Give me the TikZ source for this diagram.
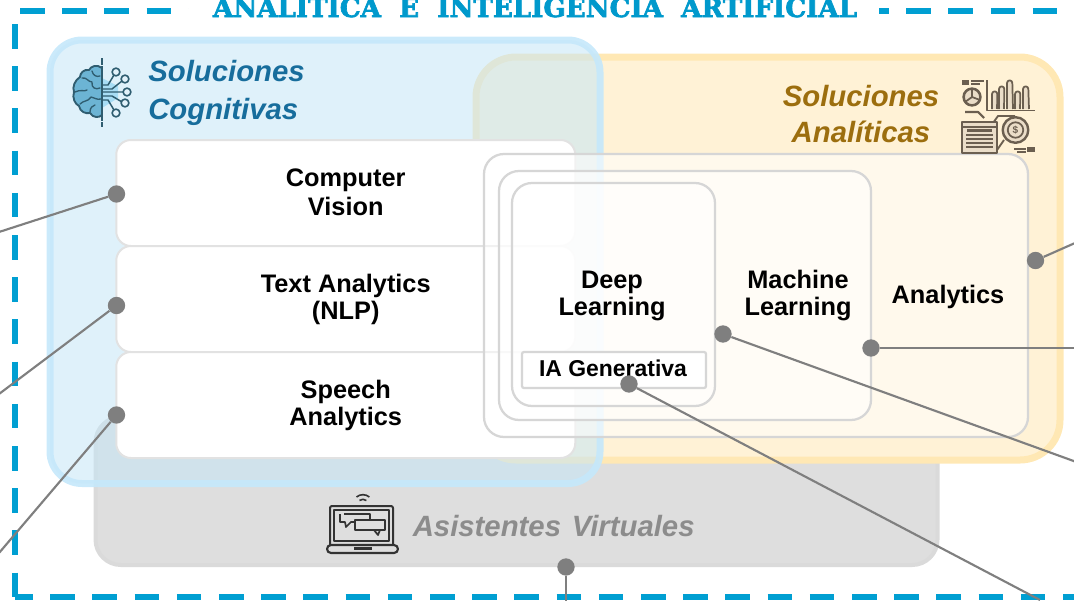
\documentclass[tikz,border=0pt]{standalone}
\usepackage{fontspec}
\setmainfont{Liberation Sans}
\newfontfamily\titlefont[BoldFeatures={FakeBold=2.5}]{DejaVu Serif}
\definecolor{framecol}{HTML}{009FD2}
\definecolor{titlecol}{HTML}{0099CC}
\definecolor{blueedge}{HTML}{C5E8FB}
\definecolor{bluefill}{HTML}{C5E6F6}
\definecolor{yellowedge}{HTML}{FFE8B4}
\definecolor{yellowfill}{HTML}{FFF2D6}
\definecolor{grayedge}{HTML}{DADADA}
\definecolor{grayfill}{HTML}{DEDEDE}
\definecolor{whiteedge}{HTML}{E2E2E2}
\definecolor{nestedge}{HTML}{D6D6D6}
\definecolor{linkcol}{HTML}{7F7F7F}
\definecolor{cogtext}{HTML}{176D9C}
\definecolor{anatext}{HTML}{9C6E0E}
\definecolor{asistext}{HTML}{8C8C8C}
\definecolor{braindark}{HTML}{2F5D70}
\definecolor{brainfill}{HTML}{6CB4D4}
\definecolor{brainglow}{HTML}{A8DDF5}
\definecolor{iconbrown}{HTML}{6B5F50}
\definecolor{iconfill}{HTML}{EADDC8}
\definecolor{laptopcol}{HTML}{333333}
\tikzset{
  boxsize/.style 2 args={minimum width=#1*0.75pt, minimum height=#2*0.75pt},
  plainbox/.style={rectangle, inner sep=0pt, outer sep=0pt, text opacity=1},
  graybox/.style={plainbox, draw=grayedge, fill=grayfill, line width=3pt, rounded corners=19pt},
  yellowbox/.style={plainbox, draw=yellowedge, fill=yellowfill, line width=5.25pt, rounded corners=30pt},
  bluebox/.style={plainbox, draw=blueedge, draw opacity=.9, fill=bluefill, fill opacity=.55, line width=5.25pt, rounded corners=24pt},
  whitebox/.style={plainbox, draw=whiteedge, fill=white, line width=1.5pt, rounded corners=11pt, align=center, font=\labelfont},
  nestbox/.style={plainbox, draw=nestedge, fill=white, fill opacity=.55, line width=1.7pt, rounded corners=15pt},
  genbox/.style={plainbox, draw=nestedge, fill=white, line width=1.7pt, rounded corners=1.5pt},
  label/.style={align=center, inner sep=0pt, font=\labelfont},
  dot/.style={circle, fill=linkcol, minimum size=13pt, inner sep=0pt},
  link/.style={draw=linkcol, line width=1.6pt},
  framedash/.style={draw=framecol, line width=4.2pt, dash pattern=on 18.45pt off 13.2pt},
}
\newcommand\labelfont{\fontsize{19}{20.3}\selectfont\bfseries}
\newcommand\genfont{\fontsize{17.2}{20}\selectfont\bfseries}
\newcommand\headfont{\fontsize{22}{28}\selectfont\bfseries\itshape}
\begin{document}
\begin{tikzpicture}[x=0.75pt,y=-0.75pt]
\useasboundingbox (0,0) rectangle (1074,600);
\clip (0,0) rectangle (1074,600);
% frame
\coordinate (topA) at (20,11); \coordinate (topB) at (1060,11);
\coordinate (leftA) at (15,24); \coordinate (corner) at (15,597); \coordinate (botB) at (1074,597);
\draw[framedash] (topA) -- (topB);
\draw[framedash] (leftA) -- (corner);
\draw[framedash, dash phase=5.25pt] (corner) -- (botB);
\node[fill=white, inner sep=0pt, minimum width=517.5pt, minimum height=24pt] (titleback) at (534,14) {};
\node[anchor=base, inner sep=0pt, text=titlecol] (title) at (535,17)
  {\resizebox{483pt}{!}{\titlefont\bfseries\fontsize{25}{25}\selectfont ANALITICA\ \ E\ \ INTELIGENCIA\ \ ARTIFICIAL}};
% containers
\node[graybox, boxsize={842}{148}] (gray) at (516.5,491) {};
\node[yellowbox, boxsize={584}{403}] (yellow) at (768,258.5) {};
\node[bluebox, boxsize={550}{443.5}] (blue) at (325,261.75) {};
% white boxes
\node[whitebox, boxsize={459}{106}] (cv) at (345.75,193) {\raisebox{1.2pt}{\shortstack{Computer\\[0.6pt]Vision}}};
\node[whitebox, boxsize={459}{106}] (nlp) at (345.75,299) {Text Analytics\\(NLP)};
\node[whitebox, boxsize={459}{106}] (speech) at (345.75,405) {Speech\\Analytics};
% nested boxes
\node[nestbox, boxsize={544}{283}] (analytics) at (756,295.5) {};
\node[nestbox, boxsize={372}{249}] (ml) at (685,295.5) {};
\node[nestbox, boxsize={203}{223}] (dl) at (613.5,294.5) {};
\node[genbox, boxsize={184}{36}] (gen) at (614,370) {};
\node[inner sep=0pt, font=\genfont] (gentext) at (613,368) {IA Generativa};
\node[label] (dltext) at (612,295.5) {Deep\\Learning};
\node[label] (mltext) at (798,295.5) {Machine\\Learning};
\node[label] (antext) at (948,297) {Analytics};
% headings
\node[anchor=west, inner sep=0pt, align=left, font=\headfont, text=cogtext] (cogtitle) at (148,93)
  {Soluciones\\[0.6pt]Cognitivas};
\node[inner sep=0pt, align=center, font=\headfont, text=anatext] (anatitle) at (861,114)
  {Soluciones\\[-1pt]Analíticas};
\node[anchor=west, inner sep=0pt, font=\fontsize{22}{26}\selectfont\bfseries\itshape, text=asistext] (asistitle) at (412.5,526)
  {Asistentes\hspace{8pt}Virtuales};
% brain icon
\fill[brainglow] (102,78) -- (118,86) -- (118,98) -- (102,108) -- cycle;
\draw[braindark, fill=brainfill, line width=1.4pt, line join=round]
  (102,68) .. controls (97,64) and (91,66) .. (89,70)
  .. controls (84,69) and (80,73) .. (80,77)
  .. controls (75,80) and (72,87) .. (74,92)
  .. controls (72,98) and (75,104) .. (79,106)
  .. controls (80,112) and (86,114) .. (90,113)
  .. controls (93,118) and (99,118) .. (102,115) -- cycle;
\draw[braindark, line width=1pt, line cap=round]
  (82,78) .. controls (87,77) and (88,82) .. (92,82)
  (92,71) .. controls (93,76) and (97,77) .. (100,76)
  (75,92) .. controls (81,89) and (84,92) .. (87,90)
  (92,82) .. controls (91,88) and (96,90) .. (100,88)
  (80,104) .. controls (84,100) and (88,102) .. (91,97)
  (91,97) .. controls (95,98) and (97,100) .. (101,99)
  (90,112) .. controls (90,107) and (93,106) .. (95,105);
\draw[braindark, line width=1.3pt, dash pattern=on 5pt off 1pt] (102.3,58) -- (102.3,127);
\draw[braindark, line width=1.1pt]
  (103,85) -- (108,85) -- (114,75)
  (103,89) -- (112,89) -- (122,81)
  (103,92) -- (123.5,92)
  (103,96) -- (112,96) -- (122,102)
  (103,100) -- (108,100) -- (114,110);
\foreach \cx/\cy in {116/72,125/79,127/92,125/103,116/113}
  \draw[braindark, fill=bluefill!50, line width=1.2pt] (\cx,\cy) circle (2.9pt);
% analytics icon
\begin{scope}[iconbrown, line width=1.3pt, line join=round]
  \fill (962,80) rectangle (969,85);
  \draw (971,81) -- (984,81) (971,84) -- (980,84);
  \draw (987,80) -- (987,110.5) -- (1035,110.5);
  \foreach \xa/\xb/\yt in {992/997/94,999/1004/89,1007/1013/83,1015/1020/94,1023/1029/89}
    \draw[fill=iconfill] (\xa,109) -- (\xa,\yt) arc[start angle=180,end angle=0,x radius=2pt,y radius=2pt] -- (\xb,109);
  \draw[fill=iconfill, line width=1.9pt] (972,97) circle (6.3pt);
  \draw (972,97) -- (972,88.6) (972,97) -- (980,100) (972,97) -- (965,102);
  \draw[line width=1.6pt] (965,112) -- (978,112) -- (984,118);
  \draw[line width=1.4pt] (993,123) -- (998,116) -- (1015,116);
  \draw[fill=iconfill, line width=1.8pt] (962,122) rectangle (997,153);
  \draw (962,127) -- (997,127);
  \fill[iconbrown] (967,129) rectangle (992,132);
  \foreach \yy in {135,139,143,147} \draw (966,\yy) -- (993,\yy);
  \draw[line width=1.4pt] (997,150) -- (1004,140);
  \draw[fill=iconfill, line width=1.8pt] (1015.5,130) circle (9.6pt);
  \draw[line width=1.3pt] (1015.5,130) circle (5.8pt);
  \node[inner sep=0pt, text=iconbrown, font=\fontsize{7.5}{8}\selectfont\bfseries] (coin) at (1015.5,130) {\$};
  \fill (1027,147) rectangle (1035,152);
  \draw (1014,149) -- (1026,149) (1017,152) -- (1026,152);
\end{scope}
% laptop icon
\begin{scope}[laptopcol, line width=1.5pt, line join=round]
  \draw[rounded corners=1.5pt] (330,545) -- (330,506) -- (393,506) -- (393,545);
  \draw[line width=1.3pt] (334,510) rectangle (389,541);
  \draw[rounded corners=3pt, line width=1.6pt] (327,545) -- (398,545) -- (398,553) -- (327,553) -- cycle;
  \fill (354,547) rectangle (372,550);
  \draw[line width=1.3pt] (340,514) -- (340,522) -- (345,522) -- (346,527) -- (351,522) -- (354,522)
        (344,514) -- (370,514) -- (370,520);
  \draw[line width=1.3pt] (355,520) rectangle (385,530);
  \draw[line width=1.3pt] (374,530) -- (378,535) -- (380,530);
  \draw[line width=1.2pt] (356.5,497) arc[start angle=130,end angle=50,radius=7.5pt];
  \draw[line width=1.2pt] (359.5,500.5) arc[start angle=130,end angle=50,radius=4pt];
\end{scope}
% dots and connectors
\node[dot] (dcv) at (116.5,194) {};
\node[dot] (dnlp) at (116.5,305.5) {};
\node[dot] (dspeech) at (116.5,415) {};
\node[dot] (dan) at (1035.5,260.5) {};
\node[dot] (dml) at (871,348) {};
\node[dot] (ddl) at (723,334) {};
\node[dot] (dgen) at (629,384) {};
\node[dot] (dvir) at (566,567) {};
\coordinate (ecv) at (-1,232);
\coordinate (enlp) at (-1,394);
\coordinate (espeech) at (-1,553);
\coordinate (ean) at (1075,243);
\coordinate (eml) at (1075,348);
\coordinate (edl) at (1075,461.5);
\coordinate (egen) at (1040,600);
\coordinate (evir) at (566,601);
\draw[link] (dcv) -- (ecv);
\draw[link] (dnlp) -- (enlp);
\draw[link] (dspeech) -- (espeech);
\draw[link] (dan) -- (ean);
\draw[link, line width=2pt] (dml) -- (eml);
\draw[link] (ddl) -- (edl);
\draw[link] (dgen) -- (egen);
\draw[link] (dvir) -- (evir);
\end{tikzpicture}
\end{document}
